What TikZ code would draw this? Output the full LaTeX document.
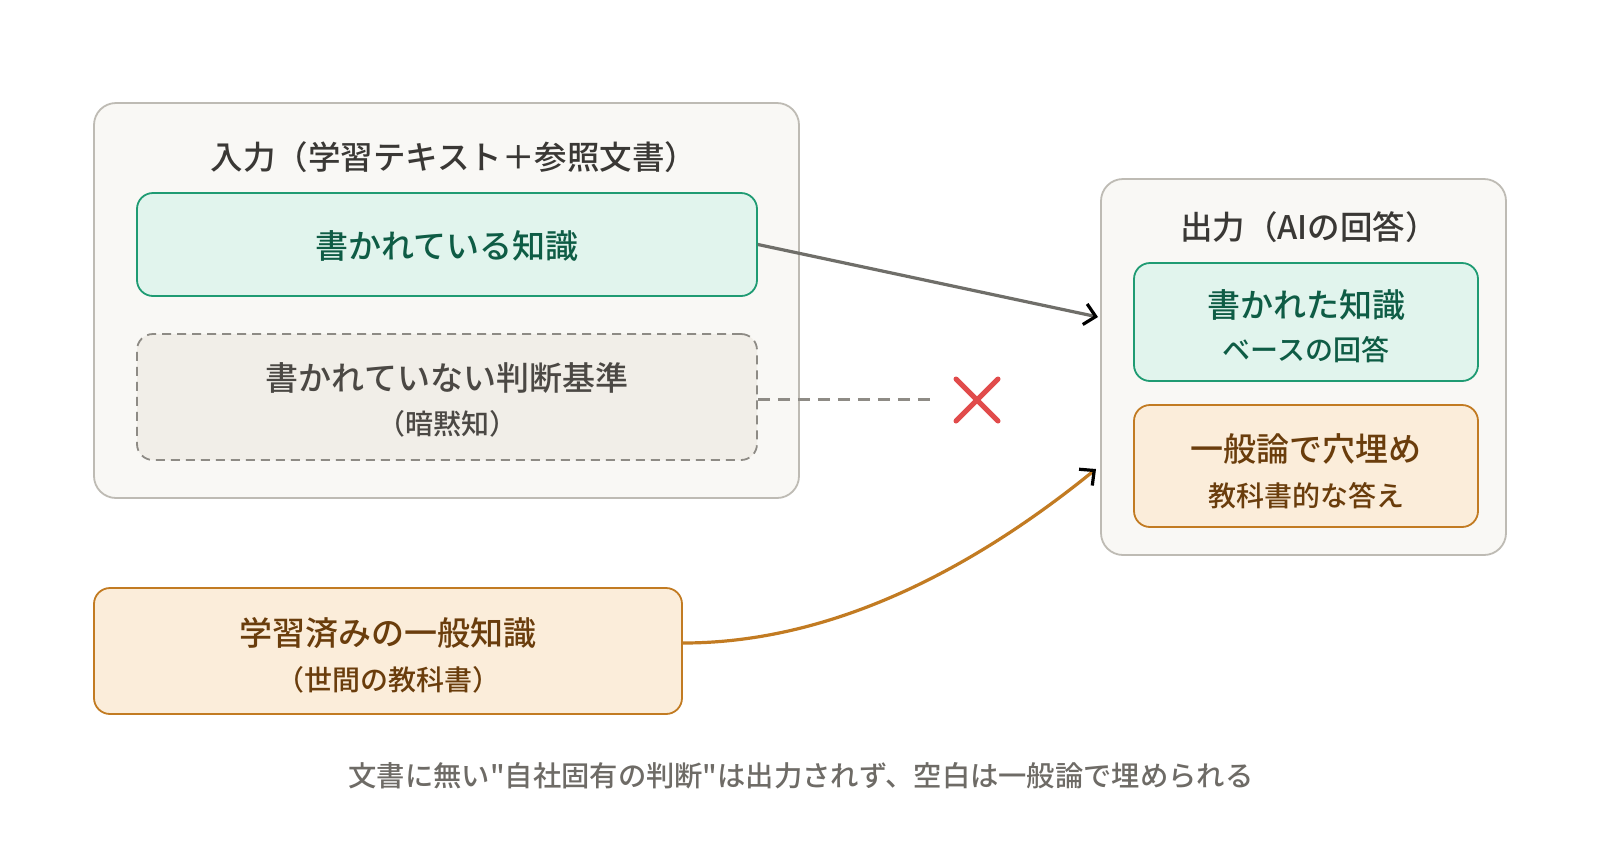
\documentclass[tikz,border=0pt]{standalone}
\usepackage{fontspec}
\setmainfont{Noto Sans CJK JP}[UprightFont={* Medium}, Ligatures=TeXOff]
\usetikzlibrary{arrows.meta}
\definecolor{outerfill}{HTML}{F9F8F5}
\definecolor{outerdraw}{HTML}{BEBBB4}
\definecolor{greenfill}{HTML}{E1F4ED}
\definecolor{greendraw}{HTML}{1F9B73}
\definecolor{greentext}{HTML}{0E5C45}
\definecolor{dashfill}{HTML}{F1EEE8}
\definecolor{dashdraw}{HTML}{8E8B85}
\definecolor{dashtext}{HTML}{4B4844}
\definecolor{orangefill}{HTML}{FBEDDA}
\definecolor{orangedraw}{HTML}{C27B22}
\definecolor{orangetext}{HTML}{6A3D0C}
\definecolor{arrowgray}{HTML}{6F6E69}
\definecolor{redx}{HTML}{E14B4B}
\definecolor{footgray}{HTML}{6E6B66}
\definecolor{titletext}{HTML}{3A3835}
\tikzset{
  outerbox/.style={draw=outerdraw, fill=outerfill, line width=1.8pt, rounded corners=22pt, inner sep=0pt},
  greenbox/.style={draw=greendraw, fill=greenfill, line width=1.8pt, rounded corners=16pt, inner sep=0pt},
  dashbox/.style={draw=dashdraw, fill=dashfill, line width=1.8pt, rounded corners=16pt, inner sep=0pt, dash pattern=on 9pt off 6pt},
  orangebox/.style={draw=orangedraw, fill=orangefill, line width=1.8pt, rounded corners=16pt, inner sep=0pt},
  maintxt/.style={font=\fontsize{33}{38}\selectfont, inner sep=0pt},
  subtxt/.style={font=\fontsize{28}{32}\selectfont, inner sep=0pt},
  titletxt/.style={font=\fontsize{32.5}{37}\selectfont, text=titletext, inner sep=0pt},
  foottxt/.style={font=\fontsize{28.3}{33}\selectfont, text=footgray, inner sep=0pt},
  tip/.style={-{Straight Barb[length=11pt,width=21pt,line width=3.2pt,color=black]}},
}
\begin{document}
\begin{tikzpicture}[x=1pt,y=-1pt]
\useasboundingbox[fill=white] (0,0) rectangle (1600,847);

% input
\node[outerbox, minimum width=705pt, minimum height=395pt] (inbox) at (446.5,300.5) {};
\node[titletxt] (intitle) at (454,157) {入力（学習テキスト＋参照文書）};
\node[greenbox, minimum width=620pt, minimum height=103pt] (written) at (447,244.5) {};
\node[maintxt, text=greentext] (writtentxt) at (447,246) {書かれている知識};
\node[dashbox, minimum width=620pt, minimum height=126pt] (unwritten) at (447,397) {};
\node[maintxt, text=dashtext] (unwrittentxt) at (447,378) {書かれていない判断基準};
\node[subtxt, text=dashtext] (tacittxt) at (447,424) {（暗黙知）};

% output
\node[outerbox, minimum width=405pt, minimum height=376pt] (outbox) at (1303.5,367) {};
\node[titletxt] (outtitle) at (1309,227) {出力（AIの回答）};
\node[greenbox, minimum width=344pt, minimum height=118pt] (outgreen) at (1306,322) {};
\node[maintxt, text=greentext] (outgreen1) at (1306,305) {書かれた知識};
\node[subtxt, text=greentext] (outgreen2) at (1306,350) {ベースの回答};
\node[orangebox, minimum width=344pt, minimum height=122pt] (outorange) at (1306,466) {};
\node[maintxt, text=orangetext] (outorange1) at (1306,449) {一般論で穴埋め};
\node[subtxt, text=orangetext] (outorange2) at (1306,496) {教科書的な答え};

% general knowledge
\node[orangebox, minimum width=588pt, minimum height=126pt] (general) at (388,651) {};
\node[maintxt, text=orangetext] (general1) at (388,633) {学習済みの一般知識};
\node[subtxt, text=orangetext] (general2) at (388,680) {（世間の教科書）};

% footer
\node[foottxt] (footer) at (801,776) {文書に無い"自社固有の判断"は出力されず、空白は一般論で埋められる};

% connectors
\coordinate (a1end) at (1098,317);
\coordinate (dashend) at (937,399);
\coordinate (a2end) at (1096,469);
\coordinate (xc) at (977,400);

\draw[arrowgray, line width=3.2pt, tip] (written.east) -- (a1end);
\draw[dashdraw, line width=3pt, dash pattern=on 12pt off 8pt] (unwritten.east |- dashend) -- (dashend);
\draw[redx, line width=5pt, line cap=round] ([shift={(-21,-21)}]xc) -- ([shift={(21,21)}]xc);
\draw[redx, line width=5pt, line cap=round] ([shift={(-21,21)}]xc) -- ([shift={(21,-21)}]xc);
\draw[orangedraw, line width=3.2pt, tip] ([yshift=8pt]general.east) .. controls (815,643) and (953,585) .. (a2end);
\end{tikzpicture}
\end{document}
